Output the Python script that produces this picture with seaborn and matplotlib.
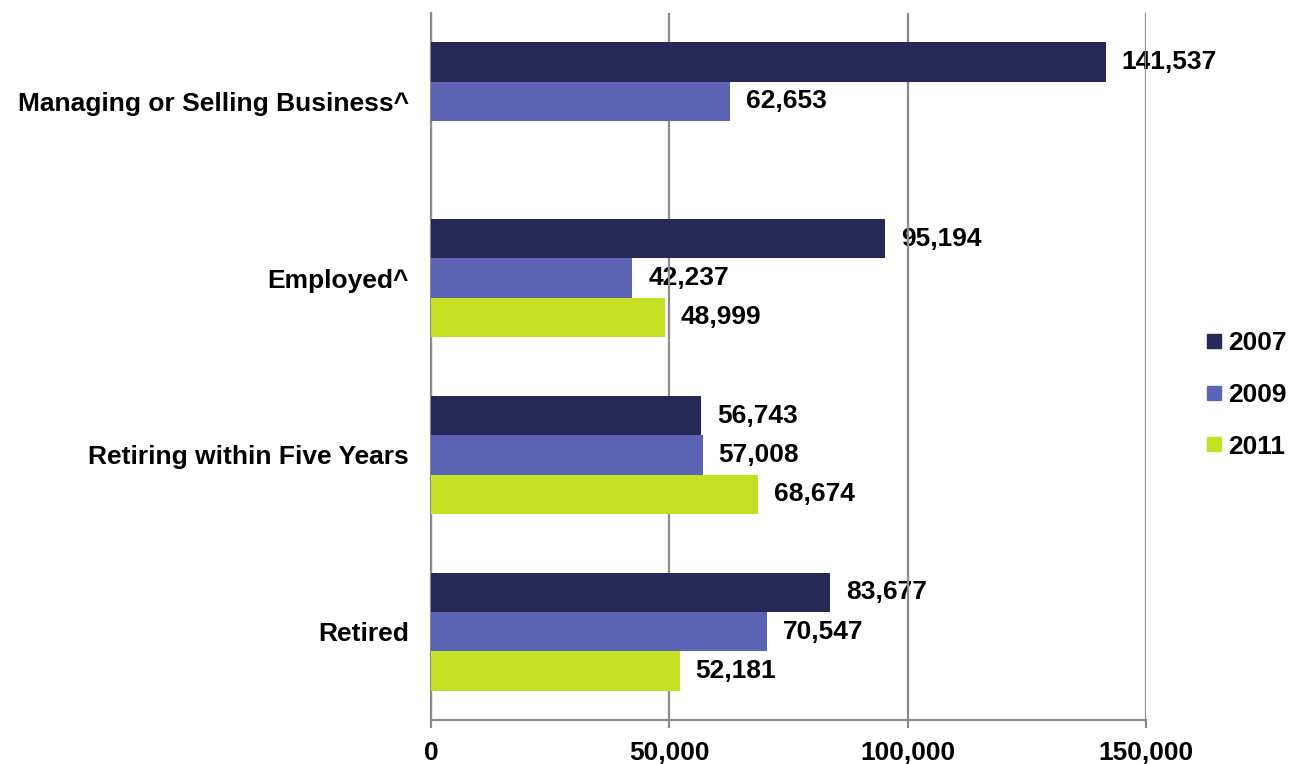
import matplotlib
matplotlib.use("Agg")
import matplotlib.pyplot as plt
import seaborn as sns
import pandas as pd
from matplotlib.lines import Line2D

categories = ["Managing or Selling Business^", "Employed^", "Retiring within Five Years", "Retired"]
years = ["2007", "2009", "2011"]
values_2007 = [141537, 95194, 56743, 83677]
values_2009 = [62653, 42237, 57008, 70547]
values_2011 = [None, 48999, 68674, 52181]
x_ticks = [0, 50000, 100000, 150000]
x_tick_labels = ["0", "50,000", "100,000", "150,000"]
colors = ["#262855", "#5B63B5", "#C5DF22"]

rows = []
for yr, vals in zip(years, [values_2007, values_2009, values_2011]):
    for cat, v in zip(categories, vals):
        if v is not None:
            rows.append({"Category": cat, "Year": yr, "Value": v})
df = pd.DataFrame(rows)

sns.set_theme(style="white")
plt.rcParams['font.family'] = ['Liberation Sans', 'DejaVu Sans']
plt.rcParams['font.weight'] = 'bold'
plt.rcParams['text.color'] = 'black'
plt.rcParams['xtick.color'] = 'black'
plt.rcParams['ytick.color'] = 'black'

FS = 19

fig = plt.figure(figsize=(12.96, 7.64), dpi=100)
ax = fig.add_axes([431/1296, 1-720/764, (1146-431)/1296, (720-13)/764])

sns.barplot(data=df, y="Category", x="Value", hue="Year", order=categories,
            hue_order=years, palette=colors, saturation=1, orient="h", width=0.667,
            errorbar=None, linewidth=0, ax=ax, legend=False, zorder=3)

for cont in ax.containers:
    ax.bar_label(cont, fmt="{:,.0f}", padding=11.5, fontsize=FS, fontweight='bold',
                 color='black', zorder=2)

ax.set_xlim(0, 150000)
ax.set_ylim(3.5, -0.5)
ax.set_xticks(x_ticks)
ax.set_xticklabels(x_tick_labels, fontsize=FS, fontweight='bold', color='black')
ax.set_yticks(range(len(categories)))
ax.set_yticklabels(categories, fontsize=FS, fontweight='bold', color='black')
ax.set_xlabel("")
ax.set_ylabel("")

ax.xaxis.grid(True, color="#8C8C8C", linewidth=1.6)
ax.set_axisbelow(False)
ax.tick_params(axis='x', which='major', length=6, width=1.6, color="#8C8C8C", pad=9,
               direction='out', bottom=True, labelcolor='black')
ax.tick_params(axis='y', length=0, pad=16, labelcolor='black')
for s in ["top", "right"]:
    ax.spines[s].set_visible(False)
for s in ["left", "bottom"]:
    ax.spines[s].set_color("#8C8C8C")
    ax.spines[s].set_linewidth(1.6)

handles = [Line2D([0], [0], marker='s', linestyle='none', markersize=9.5,
                  markerfacecolor=c, markeredgecolor=c) for c in colors]
leg = fig.legend(handles, years, loc='center left', bbox_to_anchor=(1194/1296, 1-395/764),
                 frameon=False, fontsize=FS, handlelength=0.5, handletextpad=0.3,
                 labelspacing=1.05, borderpad=0)
for t in leg.get_texts():
    t.set_fontweight('bold')
    t.set_color('black')

fig.savefig("out.png", dpi=100)
